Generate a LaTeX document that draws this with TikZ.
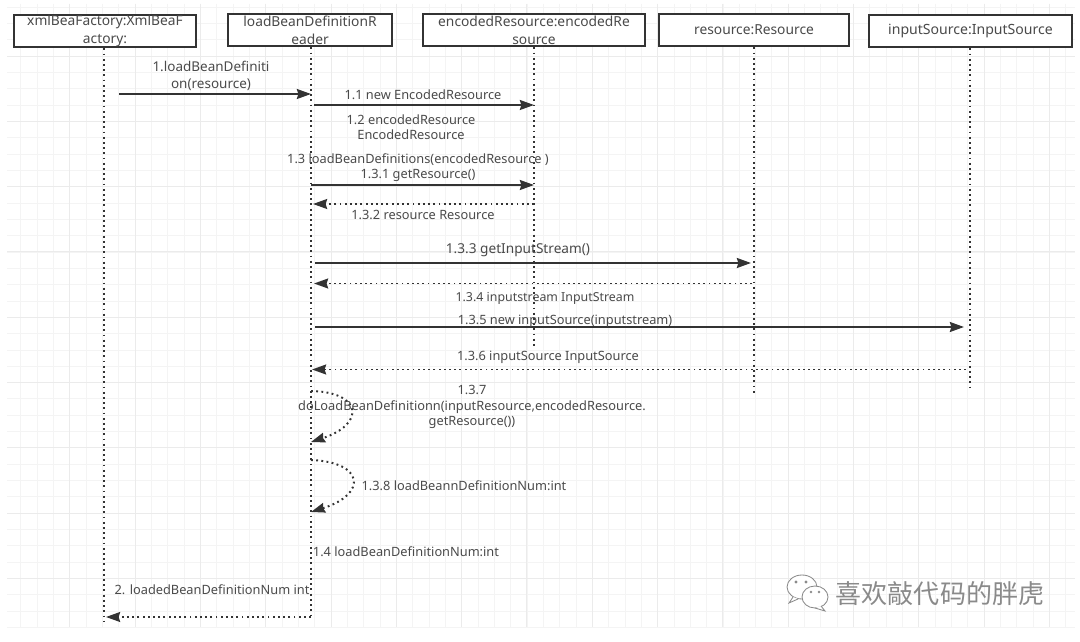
\documentclass[tikz,border=0pt]{standalone}
\usepackage{fontspec}
\setmainfont{Noto Sans}
\newfontfamily\cjkfont{Noto Sans CJK SC}
\usepackage{xcolor}
\usepackage{tikz}
\usetikzlibrary{arrows.meta, positioning, calc}

\definecolor{inkline}{HTML}{333333}
\definecolor{inktext}{HTML}{4A4A4A}
\definecolor{gridminor}{HTML}{F4F4F4}
\definecolor{gridmajor}{HTML}{EBEBEB}
\definecolor{markgray}{HTML}{8A8A8A}

\begin{document}
\begin{tikzpicture}[
        x=0.025cm,
        y=-0.025cm,
        objbox/.style={
            draw=inkline,
            line width=1.4pt,
            fill=white,
            inner sep=0pt,
            minimum height=0.82cm,
            align=center,
            text=inktext,
            font=\fontsize{9.8}{12.8}\selectfont
        },
        msglabel/.style={
            inner sep=0pt,
            align=center,
            text=inktext,
            font=\fontsize{9.1}{11}\selectfont
        },
        lifeline/.style={
            draw=inkline,
            line width=1.4pt,
            dash pattern=on 1.3pt off 2.4pt
        },
        callarrow/.style={
            -{Stealth[length=10pt,width=7pt,inset=1pt]},
            draw=inkline,
            fill=inkline,
            line width=1.5pt
        },
        replyarrow/.style={
            -{Stealth[length=10pt,width=7pt,inset=1pt]},
            lifeline
        },
        minorline/.style={draw=gridminor, line width=0.6pt},
        majorline/.style={draw=gridmajor, line width=0.7pt}
    ]

    \useasboundingbox (0,0) rectangle (1080,642);
    \fill[white] (0,0) rectangle (1080,642);

    % grid paper
    \foreach \k in {1,...,65} {
        \pgfmathsetmacro{\gx}{4.4+16.33*\k}
        \draw[minorline] (\gx,4) -- (\gx,627);
    }
    \foreach \k in {0,...,38} {
        \pgfmathsetmacro{\gy}{7+16.33*\k}
        \draw[minorline] (7,\gy) -- (1075,\gy);
    }
    \foreach \k in {1,...,16} {
        \pgfmathsetmacro{\gx}{4.4+65.32*\k}
        \draw[majorline] (\gx,4) -- (\gx,627);
    }
    \foreach \k in {0,...,9} {
        \pgfmathsetmacro{\gy}{56+65.32*\k}
        \draw[majorline] (7,\gy) -- (1075,\gy);
    }

    % objects
    \node[objbox, minimum width=4.55cm] (factory) at (105,31)
    {xmlBeaFactory:XmlBeaF\\ actory:};
    \node[objbox, minimum width=4.1cm] (reader) at (310,30)
    {loadBeanDefinitionR\\ eader};
    \node[objbox, minimum width=5.55cm] (encoded) at (534,30)
    {encodedResource:encodedRe\\ source};
    \node[objbox, minimum width=4.75cm] (resource) at (754,30)
    {resource:Resource};
    \node[objbox, minimum width=5.08cm, font=\fontsize{10}{12.8}\selectfont] (input) at (970.5,31)
    {inputSource:InputSource};

    % lifeline ends
    \coordinate (factoryend) at (104,622);
    \coordinate (readerend) at (311,617);
    \coordinate (encodedend) at (534,348);
    \coordinate (resourceend) at (754,395);
    \coordinate (inputend) at (970,387);

    \draw[lifeline] (factoryend |- factory.south) -- (factoryend);
    \draw[lifeline] (readerend |- reader.south) -- (readerend);
    \draw[lifeline] (encodedend |- encoded.south) -- (encodedend);
    \draw[lifeline] (resourceend |- resource.south) -- (resourceend);
    \draw[lifeline] (inputend |- input.south) -- (inputend);

    % messages
    \coordinate (callfrom) at (119,94);
    \coordinate (callto) at (311,94);
    \draw[callarrow] (callfrom) -- (callto);

    \coordinate (newfrom) at (314,105);
    \coordinate (newto) at (534,105);
    \draw[callarrow] (newfrom) -- (newto);

    \coordinate (getfrom) at (311,185);
    \coordinate (getto) at (534,185);
    \draw[callarrow] (getfrom) -- (getto);

    \coordinate (resfrom) at (534,204);
    \coordinate (resto) at (313,204);
    \draw[replyarrow] (resfrom) -- (resto);

    \coordinate (streamfrom) at (315,263);
    \coordinate (streamto) at (751,263);
    \draw[callarrow] (streamfrom) -- (streamto);

    \coordinate (streambackfrom) at (752,283.5);
    \coordinate (streambackto) at (314,283.5);
    \draw[replyarrow] (streambackfrom) -- (streambackto);

    \coordinate (sourcefrom) at (315,327);
    \coordinate (sourceto) at (964,327);
    \draw[callarrow] (sourcefrom) -- (sourceto);

    \coordinate (sourcebackfrom) at (966,369.5);
    \coordinate (sourcebackto) at (312,369.5);
    \draw[replyarrow] (sourcebackfrom) -- (sourcebackto);

    \coordinate (loadfrom) at (311,391);
    \coordinate (loadto) at (311,442);
    \draw[replyarrow] (loadfrom) .. controls (362,392) and (366,424) .. (loadto);

    \coordinate (numfrom) at (311,460);
    \coordinate (numto) at (311,512);
    \draw[replyarrow] (numfrom) .. controls (364,462) and (368,494) .. (numto);

    \coordinate (donefrom) at (311,617);
    \coordinate (doneto) at (106,617);
    \draw[replyarrow] (donefrom) -- (doneto);

    % message texts
    \node[msglabel, font=\fontsize{9.6}{12.2}\selectfont] (lcall) at (211,76)
    {1.loadBeanDefiniti\\ on(resource)};
    \node[msglabel] (lnew) at (423,95) {1.1 new EncodedResource};
    \node[msglabel] (lenc) at (411,127) {1.2 encodedResource\\ EncodedResource};
    \node[msglabel] (lload) at (418,160) {1.3 loadBeanDefinitions(encodedResource )};
    \node[msglabel] (lget) at (418,175) {1.3.1 getResource()};
    \node[msglabel] (lres) at (423,215) {1.3.2 resource Resource};
    \node[msglabel, font=\fontsize{9.7}{11}\selectfont] (lstream) at (518,250) {1.3.3 getInputStream()};
    \node[msglabel, font=\fontsize{8.8}{11}\selectfont] (lstreamback) at (545,298) {1.3.4 inputstream InputStream};
    \node[msglabel] (lsource) at (565,321) {1.3.5 new inputSource(inputstream)};
    \node[msglabel] (lsourceback) at (548,357) {1.3.6 inputSource InputSource};
    \node[msglabel] (ldo) at (472,407)
    {1.3.7\\ doLoadBeanDefinitionn(inputResource,encodedResource.\\ getResource())};
    \node[msglabel] (lnum) at (464,486) {1.3.8 loadBeannDefinitionNum:int};
    \node[msglabel] (lret) at (406,551.5) {1.4 loadBeanDefinitionNum:int};
    \node[msglabel] (ldone) at (212,590) {2. loadedBeanDefinitionNum int};

    % chat mark and account name
    \draw[markgray, fill=white, line width=0.6pt]
        (802,587) ellipse (15 and 12);
    \draw[markgray, fill=white, line width=0.6pt]
        (793,597) -- (789,603) -- (798,599);
    \draw[markgray, fill=white, line width=0.6pt]
        (815,597) ellipse (13 and 11);
    \draw[markgray, fill=white, line width=0.6pt]
        (821,606) -- (825,611) -- (815,608);
    \fill[markgray] (796,582) circle (1.6) (806,582) circle (1.6)
        (811,592) circle (1.4) (819,592) circle (1.4);
    \node[inner sep=0pt, text=markgray, font=\cjkfont\fontsize{18.5}{20}\selectfont]
        (account) at (940,594) {喜欢敲代码的胖虎};

\end{tikzpicture}
\end{document}
